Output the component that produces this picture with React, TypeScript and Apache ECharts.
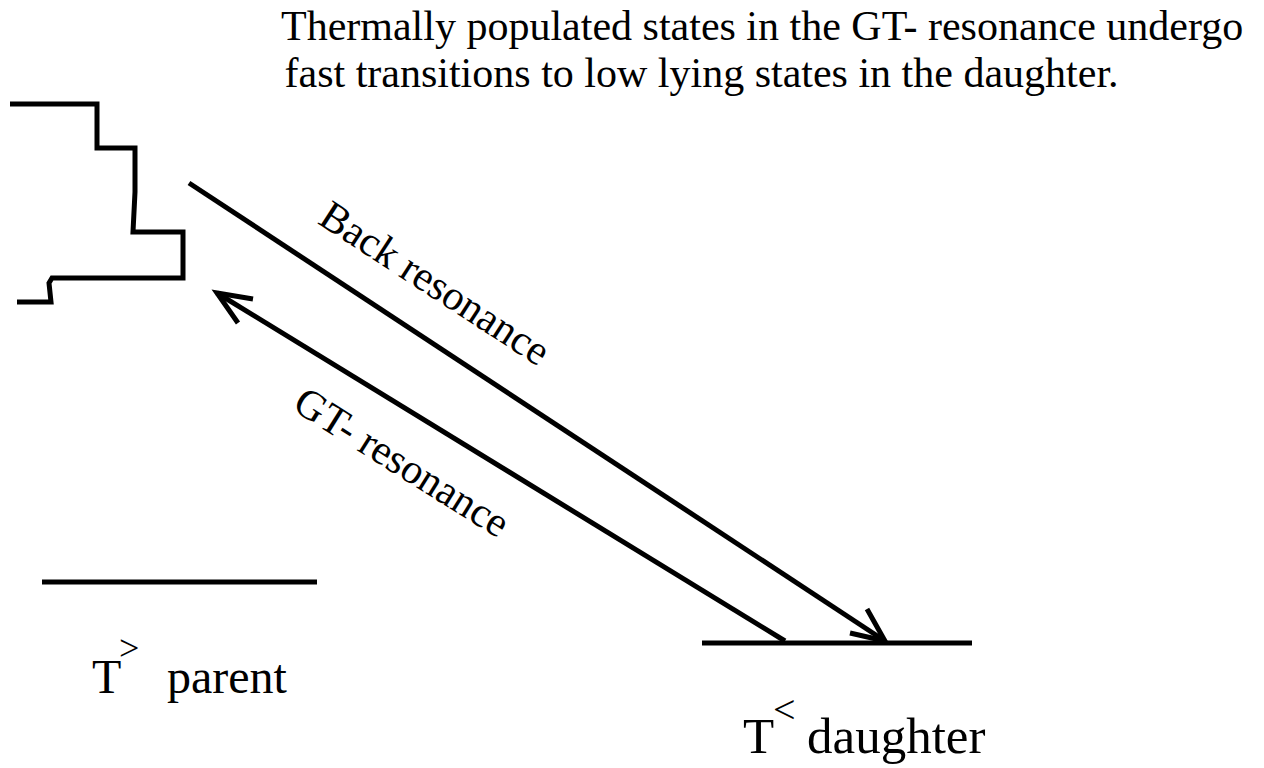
import React, { useEffect, useRef } from "react";
import * as echarts from "echarts";

// Diagram geometry (pixel-space data on hidden value axes)
const parentStates: number[][] = [
  [10, 104], [97, 104], [97, 148], [135, 148], [135, 192], [133, 232],
  [183, 232], [183, 278], [52, 278], [49, 283], [51, 302], [17, 302],
];
const parentLevel: number[][] = [[42, 582], [317, 582]];
const daughterLevel: number[][] = [[702, 643], [972, 643]];
const backShaft: number[][] = [[189, 183], [885, 641]];
const backHead: number[][] = [[867, 609], [885, 641], [850, 633]];
const gtShaft: number[][] = [[785, 641], [217, 293]];
const gtHead: number[][] = [[253, 299], [217, 293], [238, 323]];

const titleLines: string[] = [
  "Thermally populated states in the GT- resonance undergo",
  " fast transitions to low lying states in the daughter.",
];
const backLabel = "Back resonance";
const gtLabel = "GT- resonance";
const parentLabel = ["T", ">", "parent"];
const daughterLabel = ["T", "<", "daughter"];

const FONT = '"Liberation Serif", "Times New Roman", serif';

function txt(text: string, x: number, y: number, size: number, rotationDeg = 0, align = "left") {
  return {
    type: "text",
    x,
    y,
    rotation: (rotationDeg * Math.PI) / 180,
    silent: true,
    style: {
      text,
      font: `${size}px ${FONT}`,
      fill: "#000",
      textAlign: align,
      textVerticalAlign: "middle",
      align,
      verticalAlign: "middle",
    },
  };
}

export default function App() {
  const ref = useRef<HTMLDivElement>(null);
  useEffect(() => {
    document.body.style.margin = "0";
    if (!ref.current) return;
    const chart = echarts.init(ref.current, undefined, { renderer: "svg" });
    const lineSeries = (data: number[][]) => ({
      type: "line",
      data,
      symbol: "none",
      silent: true,
      lineStyle: { color: "#000", width: 5, join: "miter", cap: "butt" },
    });
    chart.setOption({
      animation: false,
      backgroundColor: "#fff",
      grid: { left: 0, right: 0, top: 0, bottom: 0 },
      xAxis: { type: "value", min: 0, max: 1264, show: false },
      yAxis: { type: "value", min: 0, max: 768, inverse: true, show: false },
      series: [
        lineSeries(parentStates),
        lineSeries(parentLevel),
        lineSeries(daughterLevel),
        lineSeries(backShaft),
        lineSeries(backHead),
        lineSeries(gtShaft),
        lineSeries(gtHead),
      ],
      graphic: [
        txt(titleLines[0], 281, 26, 42),
        txt(titleLines[1], 274, 73, 42),
        txt(backLabel, 435, 283, 42, -33, "center"),
        txt(gtLabel, 402, 462, 42, -32, "center"),
        txt(parentLabel[0], 92, 676, 48),
        txt(parentLabel[1], 119, 648, 36),
        txt(parentLabel[2], 167, 676, 48),
        txt(daughterLabel[0], 743, 736, 51),
        txt(daughterLabel[1], 773, 709, 40),
        txt(daughterLabel[2], 807, 736, 51),
      ],
    });
    return () => chart.dispose();
  }, []);
  return <div ref={ref} style={{ width: 1264, height: 768 }} />;
}
